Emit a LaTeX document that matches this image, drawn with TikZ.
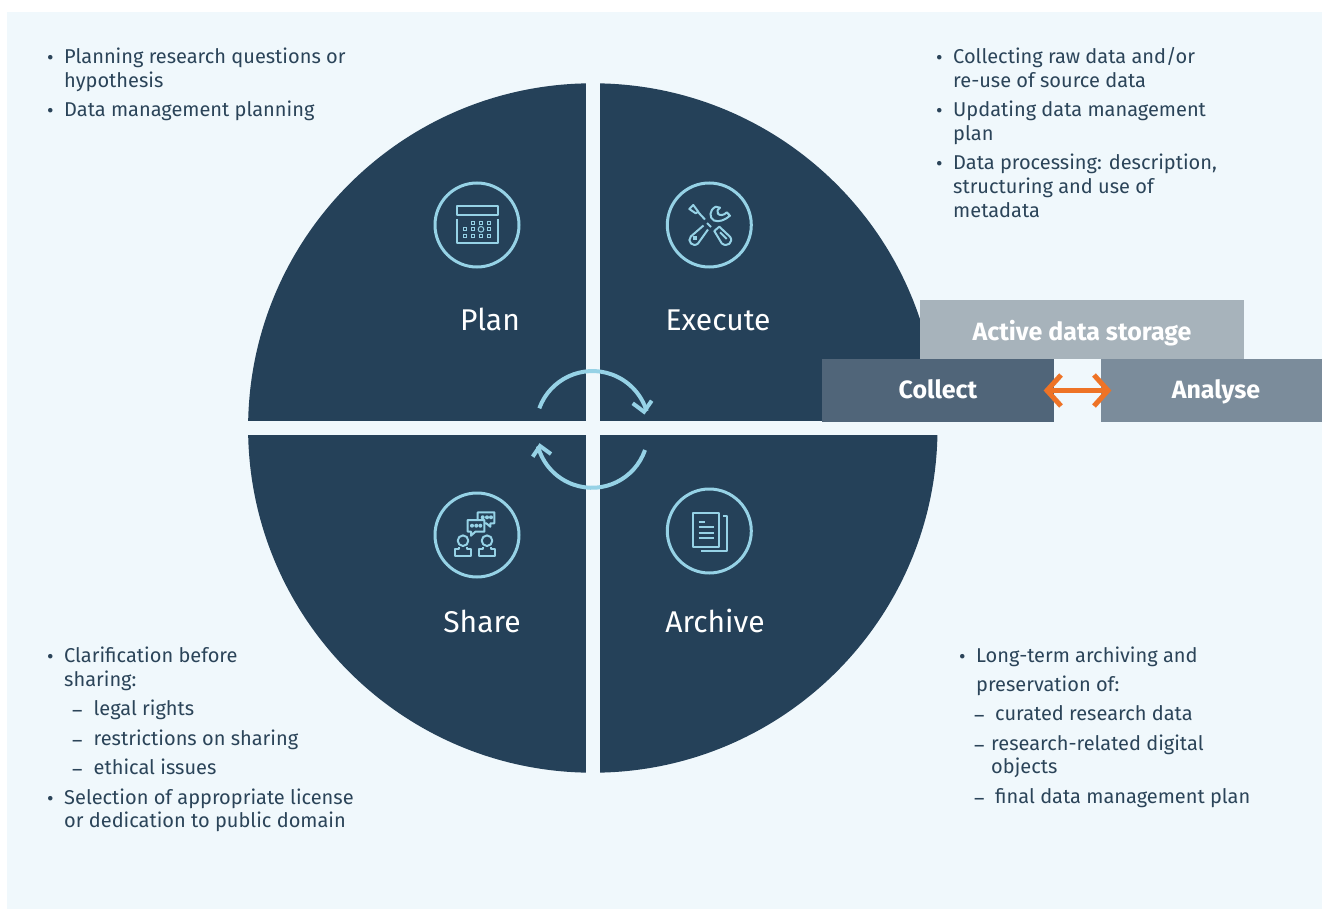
\documentclass[tikz,border=0pt]{standalone}
\usepackage{fontspec}
\setmainfont{Fira Sans}
\definecolor{panel}{HTML}{F0F8FC}
\definecolor{navy}{HTML}{254159}
\definecolor{ice}{HTML}{96D2E6}
\definecolor{stor}{HTML}{A7B3BB}
\definecolor{coll}{HTML}{506579}
\definecolor{anal}{HTML}{7B8C9B}
\definecolor{org}{HTML}{EE7326}
\definecolor{txt}{HTML}{2B4459}
\tikzset{
 x=1pt,y=-1pt,
 body/.style={font=\fontsize{20}{24}\selectfont,text=txt,anchor=base west,inner sep=0pt},
 phase/.style={font=\fontsize{30}{34}\selectfont,text=white,inner sep=0pt,anchor=base},
 tag/.style={font=\fontsize{25}{28}\selectfont\bfseries,text=white,inner sep=0pt,minimum height=62.7pt,text height=20pt,text depth=4pt},
 ring/.style={draw=ice,line width=3pt,circle,minimum size=84pt,inner sep=0pt},
 icn/.style={draw=ice,line width=2pt,line join=round},
 dot/.style={draw=ice,line width=1pt},
 cyc/.style={draw=ice,line width=4pt},
}
\begin{document}
\begin{tikzpicture}
\useasboundingbox (0,0) rectangle (1322,909);
\fill[panel] (7,12) rectangle (1322,909);
% disc
\begin{scope}
\clip (592.8,428) circle (344.7);
\fill[navy] (240,75) rectangle (586,421);
\fill[navy] (600,75) rectangle (945,421);
\fill[navy] (240,435) rectangle (586,780);
\fill[navy] (600,435) rectangle (945,780);
\end{scope}
% labels
\node[phase] (plan) at (490,330) {Plan};
\node[phase] (exec) at (718,330) {Execute};
\node[phase] (share) at (482,632) {Share};
\node[phase] (arch) at (715,632) {Archive};
% rings
\node[ring] (r1) at (477,225) {};
\node[ring] (r2) at (709.3,225) {};
\node[ring] (r3) at (477,535) {};
\node[ring] (r4) at (709.3,531) {};
% calendar
\draw[icn] (457,206) rectangle (497.5,215);
\draw[icn] (457,219) -- (457,243.3) -- (497.5,243.3) -- (497.5,219);
\foreach \u/\v in {473/222.7,481/222.7,489/222.7,465/229.3,473/229.3,489/229.3,465/236,473/236,481/236,489/236}{
  \draw[dot] (\u-1.5,\v-1.5) rectangle (\u+1.5,\v+1.5);
}
\draw[dot] (481,229.3) circle (2.8);
% tools
\draw[icn] (689.3,209) -- (693.3,205) -- (698.3,211.7) -- (695.7,213.3) -- cycle;
\draw[icn] (698,212) -- (705,219.5);
\draw[icn] (707,223) -- (711,227);
\draw[icn] (703.5,225.5) -- (690.8,236.5) .. controls (686.5,241) and (693,248) .. (698,243.5) -- (708,229.5);
\fill[ice] (693,236.5) rectangle (697,240.5);
\draw[icn] (715.7,206.7) .. controls (709,210) and (709,218) .. (714,220.5) .. controls (719,222.5) and (725,220) .. (730,215.7) -- (726.7,212.3) .. controls (724,215.5) and (719.5,216) .. (717.8,213.5) .. controls (716.5,211) and (718,209) .. (720,207.7) -- cycle;
\draw[icn] (714.3,231) -- (719.3,226.7) -- (730,236.7) .. controls (734,242) and (727,248) .. (721.7,243.3) -- cycle;
\draw[icn] (720,232.3) -- (726.7,239);
% share
\foreach \c in {463,487}{
  \draw[icn] (\c,540.7) circle (5.3);
  \draw[icn] (\c-4,546.5) -- (\c-4,548.5) -- (\c-8,548.5) -- (\c-8,555.7) -- (\c+8,555.7) -- (\c+8,548.5) -- (\c+4,548.5) -- (\c+4,546.5);
}
\draw[icn] (467.7,520) -- (484.3,520) -- (484.3,531.7) -- (475.3,531.7) -- (471,535.7) -- (471,531.7) -- (467.7,531.7) -- cycle;
\draw[icn] (477.7,520) -- (477.7,512.3) -- (494.3,512.3) -- (494.3,523.3) -- (490.3,523.3) -- (490.3,526.7) -- (486.3,523.3) -- (484.3,523.3);
\foreach \x in {472,476.3,480.3}{\fill[ice] (\x,525.7) circle (2);}
\foreach \x in {482.7,487,491}{\fill[ice] (\x,517.3) circle (2);}
% documents
\draw[icn] (692.5,512.5) rectangle (719,546.5);
\draw[icn] (723,516) -- (727,516) -- (727,551) -- (701,551);
\draw[icn] (698.5,521.5) -- (705,521.5);
\foreach \y in {527,532.5,537.5}{\draw[icn] (698.5,\y) -- (714,\y);}
% cycle arrows
\draw[cyc] (539.3,408.3) arc[start angle=-160,end angle=-17,radius=56.6];
\draw[cyc] (632.7,403.3) -- (644,411.7) -- (651.7,400.7);
\draw[cyc] (645,450) arc[start angle=19,end angle=165,radius=56];
\draw[cyc] (532.7,456.7) -- (540,446) -- (551,454);
% boxes
\node[tag,fill=stor,minimum width=324pt,minimum height=59pt,text height=25pt] (store) at (1082,329.5) {Active data storage};
\node[tag,fill=coll,minimum width=232pt] (collect) at (938,390.4) {Collect};
\node[tag,fill=anal,minimum width=221pt] (analyse) at (1211.5,390.4) {\hspace*{9pt}Analyse};
\draw[org,line width=5pt,shorten >=-5pt,shorten <=-5pt] (collect.east) -- (analyse.west);
\draw[org,line width=5pt] (1061,375) -- (1047,390.5) -- (1061,406);
\draw[org,line width=5pt] (1094,375) -- (1108,390.5) -- (1094,406);
% text
\node[body] (t01) at (64,64) {Planning research questions or};
\node[body] (t02) at (64,88) {hypothesis};
\node[body] (t03) at (64,117) {Data management planning};
\node[body] (b01) at (47,65) {•};
\node[body] (b03) at (47,118) {•};
\node[body] (t11) at (953,64) {Collecting raw data and/or};
\node[body] (t12) at (953,88) {re-use of source data};
\node[body] (t13) at (953,117) {Updating data management};
\node[body] (t14) at (953,141) {plan};
\node[body] (t15) at (953,170) {Data processing: description,};
\node[body] (t16) at (953,194) {structuring and use of};
\node[body] (t17) at (953,218) {metadata};
\node[body] (b11) at (936,65) {•};
\node[body] (b13) at (936,118) {•};
\node[body] (b15) at (936,171) {•};
\node[body] (t21) at (64,662) {Clarification before};
\node[body] (t22) at (64,686) {sharing:};
\node[body] (t23) at (93.5,715) {legal rights};
\node[body] (t24) at (93.5,745) {restrictions on sharing};
\node[body] (t25) at (93.5,774) {ethical issues};
\node[body] (t26) at (64,804) {Selection of appropriate license};
\node[body] (t27) at (64,827) {or dedication to public domain};
\node[body] (b21) at (47,663) {•};
\node[body] (b23) at (72,717) {–};
\node[body] (b24) at (72,747) {–};
\node[body] (b25) at (72,776) {–};
\node[body] (b26) at (47,805) {•};
\node[body] (t31) at (976,662) {Long-term archiving and};
\node[body] (t32) at (976,691) {preservation of:};
\node[body] (t33) at (995,720) {curated research data};
\node[body] (t34) at (991,750) {research-related digital};
\node[body] (t35) at (991,773) {objects};
\node[body] (t36) at (995,803) {final data management plan};
\node[body] (b31) at (959,663) {•};
\node[body] (b33) at (974,722) {–};
\node[body] (b34) at (974,752) {–};
\node[body] (b36) at (974,805) {–};
\end{tikzpicture}
\end{document}
